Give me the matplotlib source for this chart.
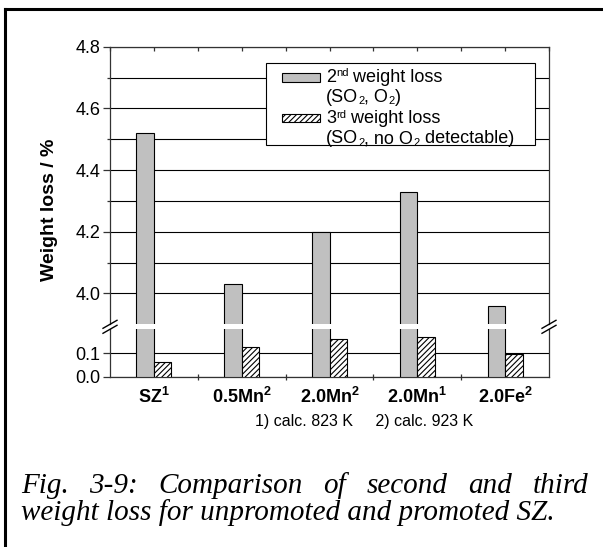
import numpy as np
import matplotlib
matplotlib.use('Agg')
import matplotlib.pyplot as plt
from matplotlib.lines import Line2D
from matplotlib.patches import Rectangle
from matplotlib.ticker import FixedLocator

plt.rcParams['font.family'] = 'Liberation Sans'
plt.rcParams['mathtext.fontset'] = 'custom'
plt.rcParams['mathtext.rm'] = 'Liberation Sans'
plt.rcParams['mathtext.bf'] = 'Liberation Sans:bold'
plt.rcParams['mathtext.it'] = 'Liberation Sans:italic'
plt.rcParams['hatch.linewidth'] = 0.8

# data
samples = [r'$\mathbf{SZ^1}$', r'$\mathbf{0.5Mn^2}$', r'$\mathbf{2.0Mn^2}$',
           r'$\mathbf{2.0Mn^1}$', r'$\mathbf{2.0Fe^2}$']
loss2 = [4.52, 4.03, 4.20, 4.33, 3.96]     # 2nd weight loss (SO2, O2)
loss3 = [0.061, 0.129, 0.162, 0.172, 0.097]  # 3rd weight loss (SO2 only)
upper_ticks = [4.0, 4.2, 4.4, 4.6, 4.8]
upper_minor = [4.1, 4.3, 4.5, 4.7]
lower_ticks = [0.0, 0.1]

W, H = 603, 547
fig = plt.figure(figsize=(W / 100, H / 100), dpi=100)
renderer = fig.canvas.get_renderer()


def box(left, top, right, bottom):
    # pixel box -> figure fraction rect
    return [left / W, 1 - bottom / H, (right - left) / W, (bottom - top) / H]


def fx(px):
    return px / W


def fy(py):
    return 1 - py / H


def pieces(x0, base, parts, **kw):
    # write text pieces one after another: (text, fontsize, raise in px)
    xp = x0
    for txt, size, dy in parts:
        t = fig.text(fx(xp), fy(base - dy), txt, fontsize=size, va='baseline', **kw)
        xp += t.get_window_extent(renderer).width


ax_up = fig.add_axes(box(110, 46.7, 549, 324.3))
ax_lo = fig.add_axes(box(110, 329.3, 549, 376.7))

x = np.arange(len(samples))
bw = 0.2
gray = '#c0c0c0'
hatch = '//////'
spine_col = '#333333'

for ax in (ax_up, ax_lo):
    ax.bar(x - bw / 2, loss2, bw, color=gray, edgecolor='black', linewidth=0.8, zorder=3)
    ax.bar(x + bw / 2, loss3, bw, color='white', edgecolor='black', hatch=hatch,
           linewidth=0.8, zorder=3)
    ax.set_xlim(-0.5, 4.5)
    ax.yaxis.grid(True, which='both', color='black', linewidth=0.8, zorder=1)
    ax.set_axisbelow(True)
    for s in ax.spines.values():
        s.set_color(spine_col)
        s.set_linewidth(0.9)
    ax.tick_params(axis='y', which='major', direction='out', length=5, width=0.9,
                   labelsize=13, pad=2, color=spine_col)
    ax.tick_params(axis='y', which='minor', direction='out', length=2.5, width=0.9,
                   color=spine_col)

# upper part
ax_up.set_ylim(3.9, 4.8)
ax_up.set_yticks(upper_ticks)
ax_up.set_yticklabels(['%.1f' % v for v in upper_ticks])
ax_up.yaxis.set_minor_locator(FixedLocator(upper_minor))
ax_up.spines['bottom'].set_visible(False)
ax_up.set_xticks(np.arange(-0.5, 4.51, 0.5))
ax_up.tick_params(axis='x', top=True, bottom=False, labelbottom=False, labeltop=False,
                  direction='in', length=3, width=0.9, color=spine_col)

# lower part
ax_lo.set_ylim(0, 0.203)
ax_lo.set_yticks(lower_ticks)
ax_lo.set_yticklabels(['%.1f' % v for v in lower_ticks])
ax_lo.spines['top'].set_visible(False)
ax_lo.set_xticks(x)
ax_lo.set_xticklabels(samples, fontsize=13)
ax_lo.tick_params(axis='x', which='major', length=0, pad=7)
ax_lo.set_xticks(np.arange(0.5, 4, 1), minor=True)
ax_lo.tick_params(axis='x', which='minor', direction='inout', length=4, width=0.9,
                  color=spine_col)

# axis break marks
for xb in (110, 549):
    for yb in (324.3, 329.3):
        fig.add_artist(Line2D([fx(xb - 7), fx(xb + 7)], [fy(yb + 4), fy(yb - 4)],
                              color='black', linewidth=1.0))

# y label spanning both parts
fig.text(fx(50), fy(210), 'Weight loss / %', rotation=90, fontsize=14,
         fontweight='bold', ha='center', va='center')

# legend drawn by hand to match the layout
fig.add_artist(Rectangle((fx(266), fy(145)), fx(535) - fx(266), fy(62.7) - fy(145),
                         transform=fig.transFigure, facecolor='white',
                         edgecolor='black', linewidth=0.8, zorder=5))
fig.add_artist(Rectangle((fx(281.7), fy(81.7)), fx(320) - fx(281.7), fy(72.7) - fy(81.7),
                         transform=fig.transFigure, facecolor=gray,
                         edgecolor='black', linewidth=0.8, zorder=6))
fig.add_artist(Rectangle((fx(281.7), fy(122)), fx(320) - fx(281.7), fy(114) - fy(122),
                         transform=fig.transFigure, facecolor='white', hatch=hatch,
                         edgecolor='black', linewidth=0.8, zorder=6))
fs = 13
pieces(326, 81.5, [('2', fs, 0), ('nd', 8, 5), (' weight loss', fs, 0)], zorder=7)
pieces(326, 102, [('(SO', fs, 0), ('2', 8, -2.5), (', O', fs, 0), ('2', 8, -2.5),
                  (')', fs, 0)], zorder=7)
pieces(326, 123, [('3', fs, 0), ('rd', 8, 5), (' weight loss', fs, 0)], zorder=7)
pieces(326, 143, [('(SO', fs, 0), ('2', 8, -2.5), (', no O', fs, 0), ('2', 8, -2.5),
                  (' detectable)', fs, 0)], zorder=7)

# footnote
fig.text(fx(364), fy(421.7), '1) calc. 823 K     2) calc. 923 K', fontsize=11.5,
         ha='center', va='center')

# outer frame (left and top)
fig.add_artist(Line2D([fx(5.3), fx(5.3)], [0, fy(9)], color='black', linewidth=2.2))
fig.add_artist(Line2D([fx(5.3), 1], [fy(9), fy(9)], color='black', linewidth=2.2))

# caption, first line justified
cap_kw = dict(fontfamily='Liberation Serif', style='italic', fontsize=21)
words = ['Fig.', '3-9:', 'Comparison', 'of', 'second', 'and', 'third']
ts = [fig.text(0, fy(493), w, va='baseline', **cap_kw) for w in words]
widths = [t.get_window_extent(renderer).width for t in ts]
gap = (588 - 21 - sum(widths)) / (len(words) - 1)
xpos = 21
for t, wd in zip(ts, widths):
    t.set_x(fx(xpos))
    xpos += wd + gap
fig.text(fx(21), fy(520), 'weight loss for unpromoted and promoted SZ.', va='baseline',
         **cap_kw)

fig.savefig('out.png', dpi=100)
